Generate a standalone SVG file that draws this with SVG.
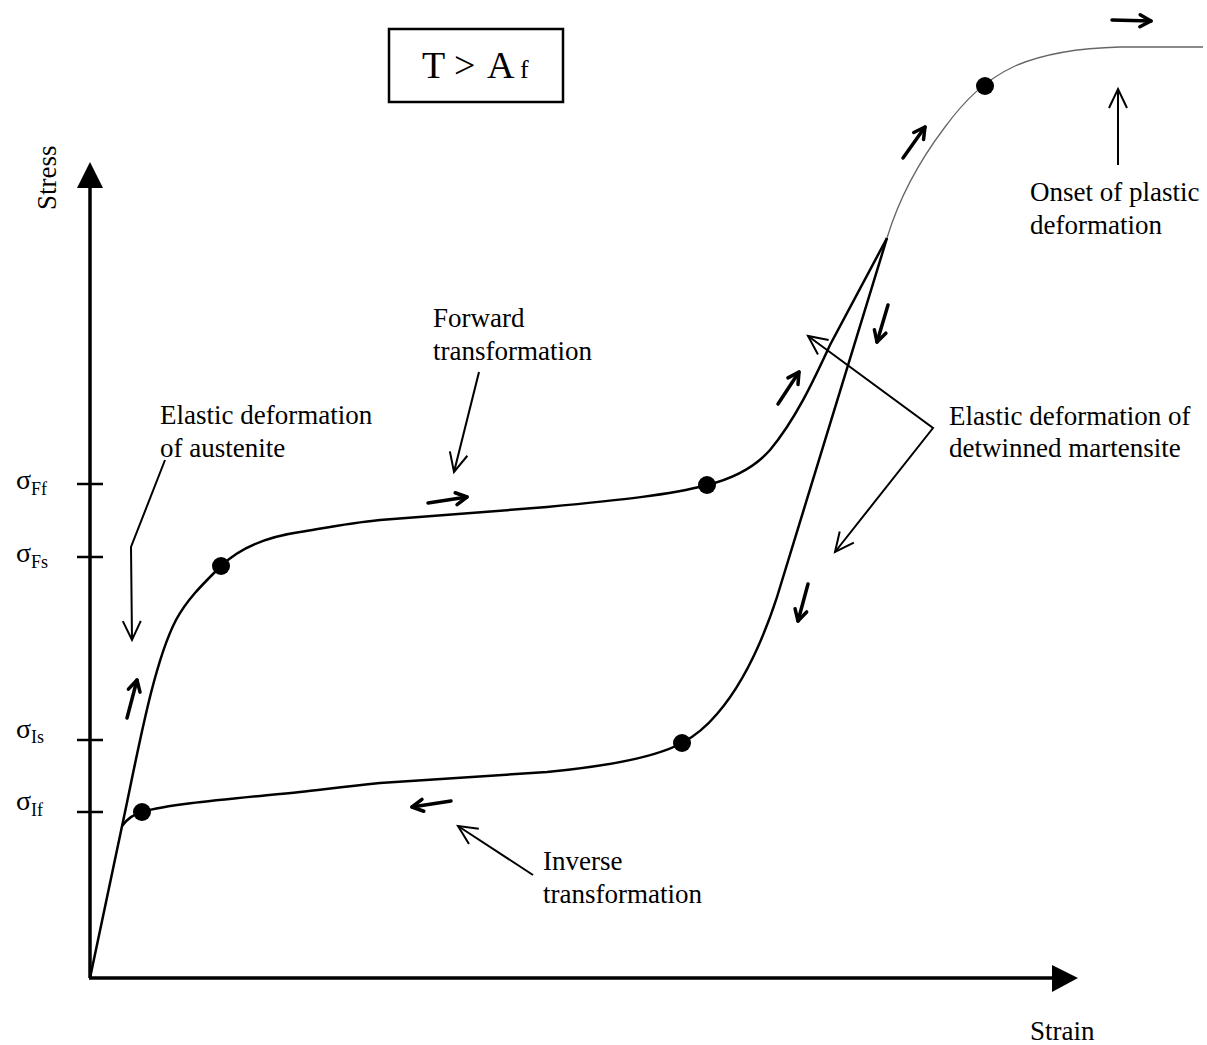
<svg xmlns="http://www.w3.org/2000/svg" width="1207" height="1045" viewBox="0 0 1207 1045">
<style>
text{font-family:"Liberation Serif","Times New Roman",serif;fill:#000}
.lbl{font-size:27px}
.sig{font-size:28px}
.sub{font-size:18px}
.curve{fill:none;stroke:#000;stroke-width:2.5}
.plastic{fill:none;stroke:#666;stroke-width:1.3}
.dir{fill:none;stroke:#000;stroke-width:3.5;stroke-linecap:round;marker-end:url(#hd)}
.ptr{fill:none;stroke:#000;stroke-width:2;marker-end:url(#ht)}
.axis{stroke:#000;stroke-width:3.5}
.tick{stroke:#000;stroke-width:2.5}
</style>
<defs>
<marker id="hd" markerUnits="userSpaceOnUse" orient="auto" refX="0" refY="0" markerWidth="1" markerHeight="1" overflow="visible">
<path d="M-11,-6 L0,0 L-11,6" fill="none" stroke="#000" stroke-width="3.5" stroke-linecap="round" stroke-linejoin="round"/>
</marker>
<marker id="ht" markerUnits="userSpaceOnUse" orient="auto-start-reverse" refX="0" refY="0" markerWidth="1" markerHeight="1" overflow="visible">
<path d="M-19,-9 L0,0 L-19,9" fill="none" stroke="#000" stroke-width="2"/>
</marker>
</defs>
<rect width="1207" height="1045" fill="#fff"/>

<g id="axes">
<line class="axis" x1="90" y1="978" x2="90" y2="186"/>
<polygon points="77,188 103,188 90,162" fill="#000"/>
<line class="axis" x1="89" y1="978" x2="1054" y2="978"/>
<polygon points="1052,965 1052,992 1078,978" fill="#000"/>
<text class="lbl" transform="translate(56,210) rotate(-90)" font-size="26">Stress</text>
<text class="lbl" x="1030" y="1040">Strain</text>
</g>

<g id="ticks">
<line class="tick" x1="77" y1="484" x2="103" y2="484"/>
<line class="tick" x1="77" y1="557" x2="103" y2="557"/>
<line class="tick" x1="77" y1="740" x2="103" y2="740"/>
<line class="tick" x1="77" y1="812" x2="103" y2="812"/>
<text x="16" y="489"><tspan class="sig">σ</tspan><tspan class="sub" dy="6">Ff</tspan></text>
<text x="16" y="562"><tspan class="sig">σ</tspan><tspan class="sub" dy="6">Fs</tspan></text>
<text x="16" y="738"><tspan class="sig">σ</tspan><tspan class="sub" dy="5">Is</tspan></text>
<text x="16" y="810"><tspan class="sig">σ</tspan><tspan class="sub" dy="6">If</tspan></text>
</g>

<g id="title">
<rect x="389" y="29" width="174" height="73" fill="none" stroke="#000" stroke-width="2.5"/>
<text y="78" font-size="38"><tspan x="422">T</tspan><tspan x="454">&gt;</tspan><tspan x="487">A</tspan></text>
<text x="520" y="78" font-size="26">f</text>
</g>

<g id="curves">
<path class="curve" d="M90,978 L125,812 C140,740 155,660 176,620 C188,598 204,583 221,566"/>
<path class="curve" d="M221,566 C240,548 265,537 300,532 C330,527 350,523 380,520 L547,507 C620,500 670,495 707,485 C735,478 755,467 770,450 C795,420 813,382 830,345 L887,238"/>
<path class="curve" d="M887,238 L777,597 C762,643 742,685 717,714 C706,727 695,736 682,743 C660,755 620,765 547,772 L380,783 C340,787 320,790 300,792 C220,800 170,804 142,812 C133,815 128,818 122,826"/>
<path class="plastic" d="M887,238 C900,195 920,160 945,127 C965,100 985,80 1015,66 C1045,53 1080,48 1120,47 L1203,47"/>
</g>

<g id="points">
<circle cx="221" cy="566" r="9"/>
<circle cx="707" cy="485" r="9"/>
<circle cx="682" cy="743" r="9"/>
<circle cx="142" cy="812" r="9"/>
<circle cx="985" cy="86" r="9"/>
</g>

<g id="direction-arrows">
<line class="dir" x1="127" y1="718" x2="137" y2="680"/>
<line class="dir" x1="428" y1="503" x2="467" y2="497"/>
<line class="dir" x1="778" y1="404" x2="799" y2="372"/>
<line class="dir" x1="903" y1="158" x2="925" y2="127"/>
<line class="dir" x1="1112" y1="20" x2="1151" y2="21"/>
<line class="dir" x1="888" y1="305" x2="877" y2="342"/>
<line class="dir" x1="808" y1="584" x2="798" y2="621"/>
<line class="dir" x1="451" y1="801" x2="412" y2="807"/>
</g>

<g id="label-austenite">
<polyline class="ptr" points="165,460 131,547 132,640"/>
<text class="lbl" x="160" y="424">Elastic deformation</text>
<text class="lbl" x="160" y="457">of austenite</text>
</g>

<g id="label-forward">
<line class="ptr" x1="479" y1="372" x2="454" y2="472"/>
<text class="lbl" x="433" y="327">Forward</text>
<text class="lbl" x="433" y="360">transformation</text>
</g>

<g id="label-inverse">
<line class="ptr" x1="533" y1="875" x2="458" y2="826"/>
<text class="lbl" x="543" y="870">Inverse</text>
<text class="lbl" x="543" y="903">transformation</text>
</g>

<g id="label-plastic">
<line class="ptr" x1="1118" y1="165" x2="1118" y2="89"/>
<text class="lbl" x="1030" y="201">Onset of plastic</text>
<text class="lbl" x="1030" y="234">deformation</text>
</g>

<g id="label-martensite">
<path class="ptr" d="M808,336 L933,428 L835,552" style="marker-start:url(#ht)"/>
<text class="lbl" x="949" y="425">Elastic deformation of</text>
<text class="lbl" x="949" y="457">detwinned martensite</text>
</g>
</svg>
